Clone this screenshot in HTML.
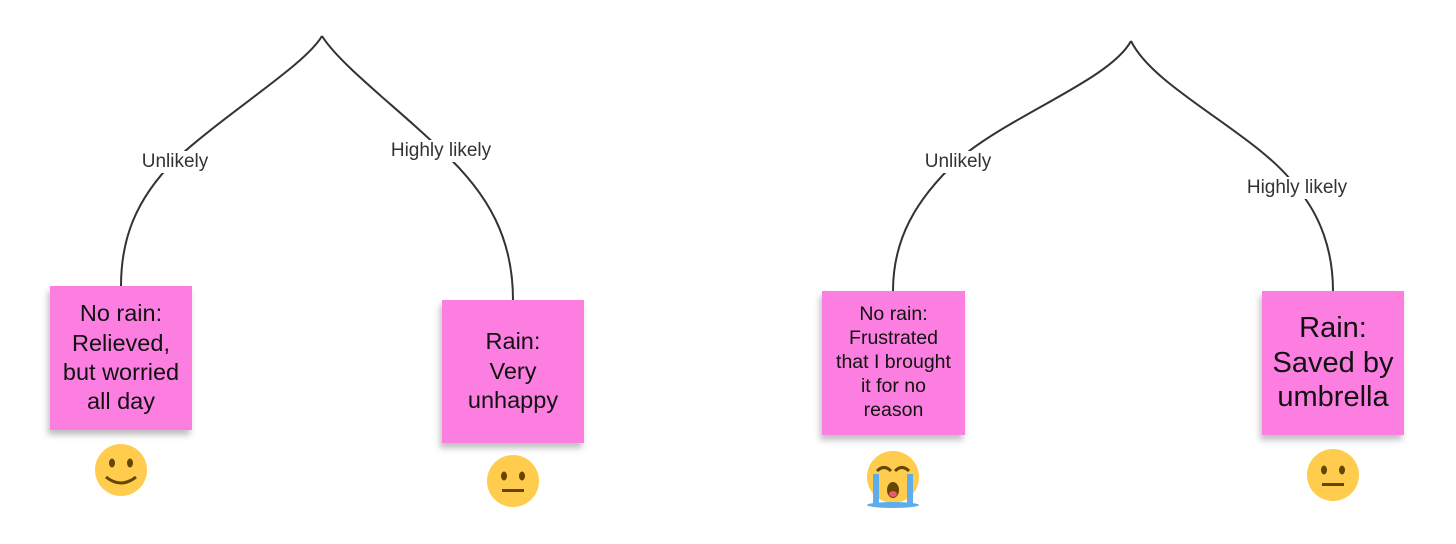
<!DOCTYPE html>
<html><head><meta charset="utf-8"><style>
body{margin:0;background:#fff;width:1456px;height:544px;overflow:hidden;position:relative;font-family:"Liberation Sans",sans-serif}
svg{position:absolute;left:0;top:0}
.n{position:absolute;background:#fc7ee0;box-shadow:-2px 5px 6px rgba(0,0,0,0.25);display:flex;align-items:center;justify-content:center;text-align:center;color:#111;line-height:1.25}
.l{position:absolute;font-size:19px;color:#333;background:#fff;white-space:nowrap;transform:translate(-50%,-50%);padding:0 2px}
</style></head><body>
<svg width="1456" height="544">
<g fill="none" stroke="#333" stroke-width="2">
<path d="M322,36 C305,65 230,110 175,160 C135,200 121,240 121,286"/>
<path d="M322,36 C340,65 400,110 441,150 C490,195 513,240 513,300"/>
<path d="M1131,41 C1110,80 1010,115 958,160 C915,200 893,240 893,291"/>
<path d="M1131,41 C1155,90 1260,135 1297,188 C1320,215 1333,250 1333,291"/>
</g>
<g>
<circle cx="121" cy="470" r="26" fill="#ffcc4d"/>
<ellipse cx="112" cy="463" rx="3" ry="4.5" fill="#664500"/><ellipse cx="130" cy="463" rx="3" ry="4.5" fill="#664500"/>
<path d="M106,477 Q121,489 136,477" stroke="#664500" stroke-width="3" fill="none"/>
<circle cx="513" cy="481" r="26" fill="#ffcc4d"/>
<ellipse cx="504" cy="476" rx="3" ry="4.5" fill="#664500"/><ellipse cx="522" cy="476" rx="3" ry="4.5" fill="#664500"/>
<rect x="502" y="489" width="22" height="3" fill="#664500"/>
<circle cx="1333" cy="475" r="26" fill="#ffcc4d"/>
<ellipse cx="1324" cy="470" rx="3" ry="4.5" fill="#664500"/><ellipse cx="1342" cy="470" rx="3" ry="4.5" fill="#664500"/>
<rect x="1322" y="483" width="22" height="3" fill="#664500"/>
<circle cx="893" cy="477" r="26" fill="#ffcc4d"/>
<path d="M877,471 Q884,464 891,471 M895,471 Q902,464 909,471" stroke="#664500" stroke-width="3" fill="none"/>
<ellipse cx="893" cy="490" rx="6" ry="8" fill="#664500"/><ellipse cx="893" cy="494" rx="4" ry="3" fill="#e75a70"/>
<rect x="873" y="474" width="6" height="30" fill="#5dadec"/><rect x="907" y="474" width="6" height="30" fill="#5dadec"/>
<ellipse cx="893" cy="505" rx="26" ry="3" fill="#5dadec"/>
</g>
</svg>
<div class="l" style="left:175px;top:162px">Unlikely</div>
<div class="l" style="left:441px;top:151px">Highly likely</div>
<div class="l" style="left:958px;top:162px">Unlikely</div>
<div class="l" style="left:1297px;top:188px">Highly likely</div>
<div class="n" style="left:50px;top:286px;width:142px;height:144px;font-size:23.5px">No rain:<br>Relieved,<br>but worried<br>all day</div>
<div class="n" style="left:442px;top:300px;width:142px;height:143px;font-size:23.5px">Rain:<br>Very<br>unhappy</div>
<div class="n" style="left:822px;top:291px;width:143px;height:144px;font-size:19.5px;line-height:1.23">No rain:<br>Frustrated<br>that I brought<br>it for no<br>reason</div>
<div class="n" style="left:1262px;top:291px;width:142px;height:144px;font-size:29px;line-height:1.2">Rain:<br>Saved by<br>umbrella</div>
</body></html>
